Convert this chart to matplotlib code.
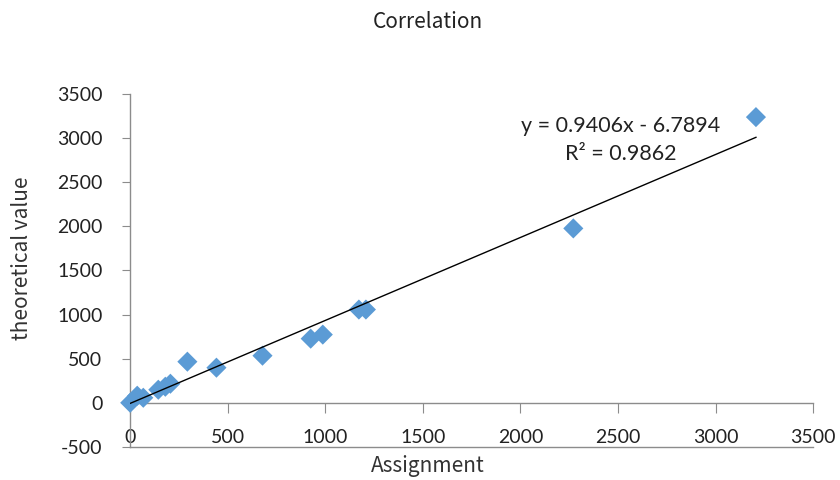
import matplotlib
matplotlib.use("Agg")
import matplotlib.pyplot as plt
import numpy as np

plt.rcParams["axes.unicode_minus"] = False

# values
assignment = [0, 36, 67, 144, 180, 206, 293, 442, 678, 925, 987, 1172, 1208, 2271, 3207]
theoretical = [0, 80, 57, 148, 182, 216, 466, 398, 534, 727, 773, 1057, 1057, 1977, 3239]
slope = 0.9406
intercept = -6.7894
r2 = 0.9862

x_ticks = [0, 500, 1000, 1500, 2000, 2500, 3000, 3500]
y_ticks = [-500, 0, 500, 1000, 1500, 2000, 2500, 3000, 3500]

tick_font = "Lato"
label_font = ["Noto Sans CJK SC", "DejaVu Sans"]
axis_grey = "#8c8c8c"

fig = plt.figure(figsize=(8.4, 4.8), dpi=100)
ax = fig.add_axes([0.155, 0.069, 0.813, 0.735])

ax.scatter(assignment, theoretical, marker="D", s=105, color="#5b9bd5",
           edgecolors="none", zorder=3, clip_on=False)

# trendline across the range of the data
xs = np.array([min(assignment), max(assignment)])
ax.plot(xs, slope * xs + intercept, color="black", lw=1.0, zorder=4)

ax.set_xlim(0, 3500)
ax.set_ylim(-500, 3500)
ax.set_xticks(x_ticks)
ax.set_yticks(y_ticks)

# excel style: horizontal axis crosses at y = 0
ax.spines["bottom"].set_position(("data", 0))
ax.spines["top"].set_visible(False)
ax.spines["right"].set_visible(False)
for s in ["bottom", "left"]:
    ax.spines[s].set_color(axis_grey)
    ax.spines[s].set_linewidth(1.0)
ax.axhline(-500, color=axis_grey, lw=1.0, clip_on=False, zorder=1)

ax.tick_params(axis="x", direction="out", length=7, color=axis_grey, pad=12)
ax.tick_params(axis="y", direction="out", length=6, color=axis_grey, pad=14)
for lab in ax.get_xticklabels() + ax.get_yticklabels():
    lab.set_fontfamily(tick_font)
    lab.set_fontsize(14)
    lab.set_color("#222222")

fig.text(428 / 840, 1 - 466 / 480, "Assignment", ha="center", va="center",
         fontsize=15, family=label_font, color="#333333")
fig.text(22 / 840, 1 - 258 / 480, "theoretical value", ha="center", va="center",
         rotation=90, fontsize=15, family=label_font, color="#333333")
fig.text(428 / 840, 1 - 22 / 480, "Correlation", ha="center", va="center",
         fontsize=15, family=label_font, color="#222222")

ax.text(2515, 3140, "y = %.4fx - %.4f" % (slope, -intercept), ha="center",
        va="center", fontsize=15.5, family=tick_font, color="#222222")
ax.text(2515, 2820, "R² = %.4f" % r2, ha="center", va="center", fontsize=15.5,
        family=tick_font, color="#222222")

fig.savefig("out.png", dpi=100)
